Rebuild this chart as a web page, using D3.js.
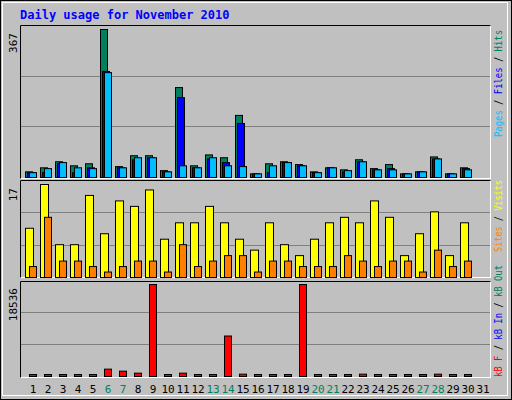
<html>
<head>
<script src="https://d3js.org/d3.v7.min.js"></script>
<style>
  body { margin: 0; background: #fff; }
  text { font-family: "DejaVu Sans Mono", monospace; }
</style>
</head>
<body>
<svg id="chart" width="512" height="400"></svg>
<script>
var days = d3.range(1, 32);
var weekends = [6, 7, 13, 14, 20, 21, 27, 28];
var hits  = [14,24,39,29,34,367,27,54,54,17,223,29,56,49,154,9,34,39,32,14,24,19,44,22,32,9,14,51,9,24];
var files = [12,12,34,12,24,263,24,44,49,14,198,24,46,37,134,9,12,37,29,12,24,14,39,19,22,9,14,46,9,22];
var pages = [12,22,37,24,22,260,24,49,49,14,29,24,49,29,27,9,29,37,29,12,24,17,39,19,19,9,14,46,9,19];
var visits = [9,17,6,6,15,8,14,13,16,7,10,10,13,10,7,5,10,6,4,7,10,11,10,14,11,4,8,12,4,10];
var sites  = [2,11,3,3,2,1,2,3,3,1,6,2,3,4,4,1,3,3,2,2,2,4,3,2,3,3,1,5,2,3];
var kbytes = [0,0,0,0,0,1483,1078,674,18536,0,674,0,0,8156,472,0,0,0,18536,0,0,0,472,0,0,0,0,472,0,0];

var svg = d3.select("#chart");
svg.append("rect").attr("x", 0.5).attr("y", 0.5).attr("width", 511).attr("height", 399)
  .attr("fill", "#c0c0c0").attr("stroke", "#000");
svg.append("rect").attr("x", 2.5).attr("y", 2.5).attr("width", 505).attr("height", 393)
  .attr("fill", "none").attr("stroke", "#fff");

svg.append("text").attr("x", 20).attr("y", 19).attr("fill", "#0000ff")
  .attr("font-size", 12).attr("font-weight", "bold").text("Daily usage for November 2010");

var x = d3.scaleLinear().domain([1, 2]).range([25, 40]);

// panel frames
var panels = [[25, 178], [180, 277], [281, 377]];
panels.forEach(function(p) {
  svg.append("rect").attr("x", 20.5).attr("y", p[0] + 0.5).attr("width", 470).attr("height", p[1] - p[0])
    .attr("fill", "#c0c0c0").attr("stroke", "#fff");
  svg.append("path").attr("d", "M20.5," + (p[1] + 0.5) + "V" + (p[0] + 0.5) + "H490.5")
    .attr("fill", "none").attr("stroke", "#000");
});

function sideLabel(bottom, len, label) {
  var t = svg.append("text").attr("transform", "translate(502," + bottom + ") rotate(-90)")
    .attr("font-size", 11).attr("textLength", len).attr("lengthAdjust", "spacingAndGlyphs");
  label.forEach(function(l, i) {
    if (i > 0) t.append("tspan").attr("fill", "#000").text(" / ");
    t.append("tspan").attr("fill", l[1]).text(l[0]);
  });
}

function panel(top, bottom, max, series) {
  var y = d3.scaleLinear().domain([0, max]).range([bottom, top]);
  var span = bottom - (top - 4);
  [1, 2].forEach(function(k) {
    var gy = Math.round(bottom - span * k / 3) + 0.5;
    svg.append("line").attr("x1", 21).attr("x2", 490).attr("y1", gy).attr("y2", gy)
      .attr("stroke", "#808080");
  });
  series.forEach(function(s) {
    svg.append("g").selectAll("rect").data(s.values).enter().append("rect")
      .attr("x", function(d, i) { return x(i + 1) + s.dx + 0.5; })
      .attr("y", function(d) { return Math.min(y(d), bottom - 2) + 0.5; })
      .attr("width", s.w)
      .attr("height", function(d) { return Math.max(bottom - y(d), 2); })
      .attr("fill", s.color).attr("stroke", "#000");
  });
  svg.append("text").attr("transform", "translate(17," + (top + 4) + ") rotate(-90)")
    .attr("text-anchor", "end").attr("font-size", 11).text(max);
  return y;
}

panel(29, 177, 367, [
  { values: hits, color: "#00805c", dx: 0, w: 7 },
  { values: files, color: "#0000ff", dx: 2, w: 7 },
  { values: pages, color: "#00bfff", dx: 4, w: 7 }
]);
panel(184, 277, 17, [
  { values: visits, color: "#ffff00", dx: 0, w: 8 },
  { values: sites, color: "#ff8000", dx: 4, w: 7 }
]);
panel(284, 376, 18536, [
  { values: kbytes, color: "#ff0000", dx: 4, w: 7 }
]);

sideLabel(137, 107, [["Pages", "#00bfff"], ["Files", "#0000ff"], ["Hits", "#00805c"]]);
sideLabel(252, 72, [["Sites", "#ff8000"], ["Visits", "#ffff00"]]);
sideLabel(377, 112, [["kB F", "#ff0000"], ["kB In", "#0000ff"], ["kB Out", "#00805c"]]);

svg.append("g").selectAll("text").data(days).enter().append("text")
  .attr("x", function(d) { return x(d) + 8; }).attr("y", 393)
  .attr("text-anchor", "middle").attr("font-size", 11)
  .attr("fill", function(d) { return weekends.indexOf(d) >= 0 ? "#00805c" : "#000"; })
  .text(function(d) { return d; });
</script>
</body>
</html>
